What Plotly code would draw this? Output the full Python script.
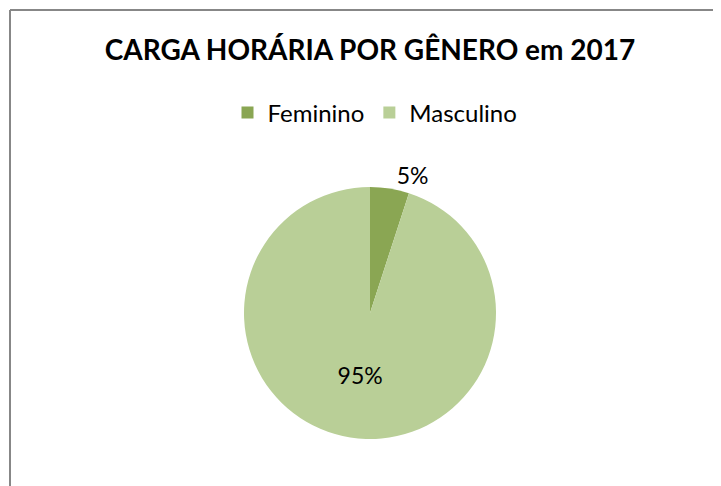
import plotly.graph_objects as go

labels = ["Feminino", "Masculino"]
values = [5, 95]
colors = ["#8AA653", "#B9CF97"]
title_text = "CARGA HORÁRIA POR GÊNERO em 2017"

# page body has an 8px margin; figure is sized to fit the window
OFF = 8
W, H = 721 - OFF, 486 - OFF
cx, cy, r = 370 - OFF, 313 - OFF, 126

def px(x):
    return (x - OFF) / W

def py(y):
    return 1 - (y - OFF) / H

fig = go.Figure(go.Pie(
    labels=labels,
    values=values,
    marker=dict(colors=colors, line=dict(width=0)),
    sort=False,
    direction="clockwise",
    rotation=0,
    textinfo="percent",
    texttemplate="%{percent:.0%}",
    textposition=["outside", "inside"],
    textfont=dict(size=23, color="black", family="Lato"),
    insidetextorientation="horizontal",
    hoverinfo="label+percent",
    domain=dict(x=[(cx - r) / W, (cx + r) / W], y=[1 - (cy + r) / H, 1 - (cy - r) / H]),
))

fig.update_layout(
    width=W, height=H,
    margin=dict(l=0, r=0, t=0, b=0),
    paper_bgcolor="white",
    title=dict(text="<b>" + title_text + "</b>", x=px(370), xanchor="center",
               y=py(50), yanchor="middle",
               font=dict(size=28, color="black", family="Lato")),
    legend=dict(orientation="h", x=px(375), xanchor="center", y=py(113), yanchor="middle",
                font=dict(size=24, color="black", family="Lato"),
                itemwidth=30, tracegroupgap=0),
    shapes=[
        dict(type="line", xref="paper", yref="paper", x0=px(10), x1=1, y0=py(10), y1=py(10),
             line=dict(color="#878787", width=2)),
        dict(type="line", xref="paper", yref="paper", x0=px(10), x1=px(10), y0=py(10), y1=0,
             line=dict(color="#878787", width=2)),
    ],
)

fig.write_html("out.html")
